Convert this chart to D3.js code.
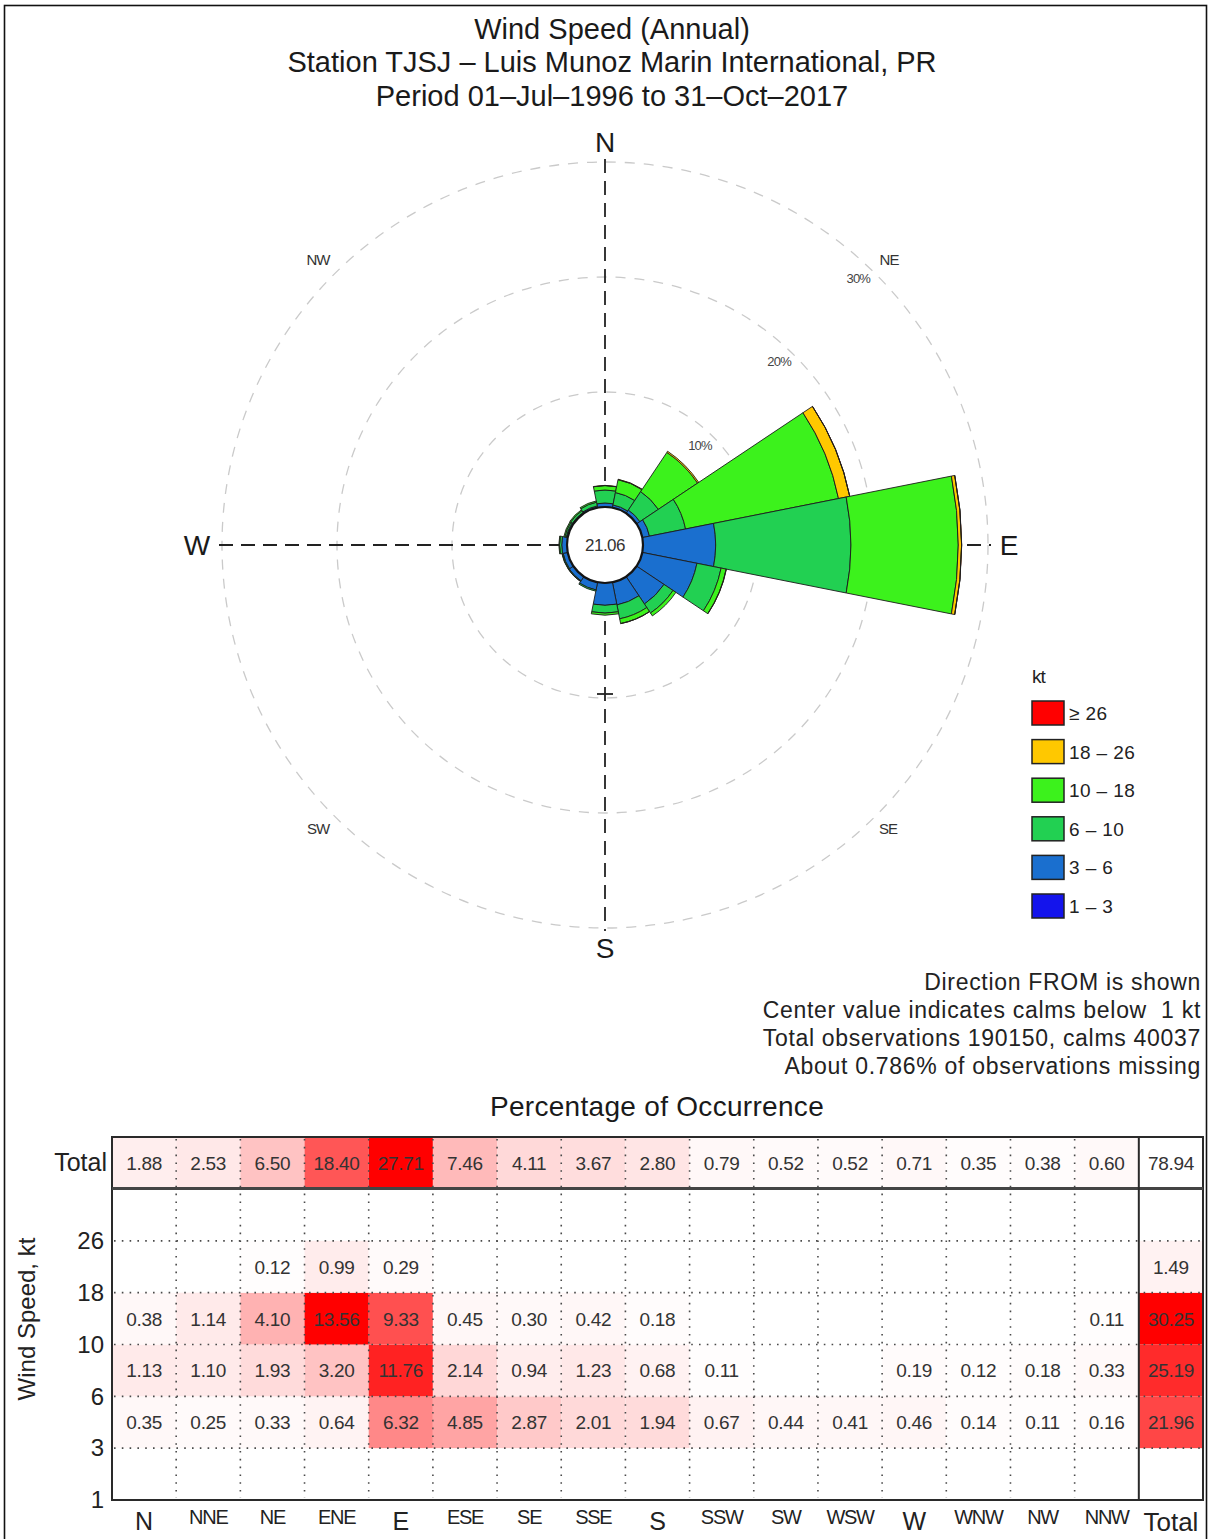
<!DOCTYPE html>
<html>
<head>
<meta charset="utf-8">
<script src="https://cdn.jsdelivr.net/npm/d3@7"></script>
<style>
  html, body { margin: 0; padding: 0; background: #fff; }
  svg { display: block; font-family: "Liberation Sans", Arial, Helvetica, sans-serif; }
</style>
</head>
<body>
<svg id="chart" width="1209" height="1539"></svg>
<script>
// ---- Data: station TJSJ wind speed frequency (%) by direction and speed bin ----
const directions = ["N","NNE","NE","ENE","E","ESE","SE","SSE","S","SSW","SW","WSW","W","WNW","NW","NNW"];
const speedBins = ["1 – 3","3 – 6","6 – 10","10 – 18","18 – 26","≥ 26"];
const speedTicks = [1, 3, 6, 10, 18, 26];
const binColors = ["#1414ec","#1a6fcf","#22d052","#3cf21c","#ffc800","#ff0000"];

// Percent of observations per direction for each speed bin (kt)
const pct1to3   = [0.00,0.00,0.02,0.00,0.00,0.00,0.00,0.00,0.00,0.01,0.00,0.00,0.00,0.00,0.00,0.00];
const pct3to6   = [0.35,0.25,0.33,0.64,6.32,4.85,2.87,2.01,1.94,0.67,0.44,0.41,0.46,0.14,0.11,0.16];
const pct6to10  = [1.13,1.10,1.93,3.20,11.76,2.14,0.94,1.23,0.68,0.11,0.07,0.08,0.19,0.12,0.18,0.33];
const pct10to18 = [0.38,1.14,4.10,13.56,9.33,0.45,0.30,0.42,0.18,0.00,0.01,0.03,0.06,0.09,0.09,0.11];
const pct18to26 = [0.02,0.04,0.12,0.99,0.29,0.02,0.00,0.01,0.00,0.00,0.00,0.00,0.00,0.00,0.00,0.00];
const pct26up   = [0.00,0.00,0.00,0.01,0.01,0.00,0.00,0.00,0.00,0.00,0.00,0.00,0.00,0.00,0.00,0.00];
const binSeries = [pct1to3, pct3to6, pct6to10, pct10to18, pct18to26, pct26up];

const dirTotals = [1.88,2.53,6.50,18.40,27.71,7.46,4.11,3.67,2.80,0.79,0.52,0.52,0.71,0.35,0.38,0.60];
const binTotals = [null, 21.96, 25.19, 30.25, 1.49, null];
const grandTotal = 78.94;
const calmPct = 21.06;
const ringValues = [10, 20, 30];

const titleLines = [
  "Wind Speed (Annual)",
  "Station TJSJ – Luis Munoz Marin International, PR",
  "Period 01–Jul–1996 to 31–Oct–2017"
];
const noteLines = [
  "Direction FROM is shown",
  "Center value indicates calms below  1 kt",
  "Total observations 190150, calms 40037",
  "About 0.786% of observations missing"
];

const svg = d3.select("#chart");
const fmt = d3.format(".2f");

// page frame
svg.append("rect").attr("x", 4.5).attr("y", 5.5).attr("width", 1202).attr("height", 1545)
  .attr("fill", "none").attr("stroke", "#111").attr("stroke-width", 1.6);

// titles
svg.append("g").selectAll("text").data(titleLines).join("text")
  .attr("x", 612).attr("y", (d, i) => 38.5 + i * 33.5)
  .attr("text-anchor", "middle").attr("font-size", 29).attr("fill", "#1a1a1a")
  .style("white-space", "pre")
  .text(d => d);

// ---- Wind rose ----
const cx = 605, cy = 545;
const r = d3.scaleLinear().domain([0, 30]).range([38, 383]);
const rose = svg.append("g").attr("transform", `translate(${cx},${cy})`);

// percentage rings
rose.selectAll("circle.ring").data(ringValues).join("circle")
  .attr("class", "ring").attr("r", d => r(d))
  .attr("fill", "none").attr("stroke", "#cacaca").attr("stroke-width", 1.3)
  .attr("stroke-dasharray", "10,9");

// compass axes
const axR = r(30) + 3;
rose.append("line").attr("x1", 0).attr("x2", 0).attr("y1", -axR).attr("y2", axR)
  .attr("stroke", "#222").attr("stroke-width", 1.8).attr("stroke-dasharray", "14,8");
rose.append("line").attr("y1", 0).attr("y2", 0).attr("x1", -axR).attr("x2", axR)
  .attr("stroke", "#222").attr("stroke-width", 1.8).attr("stroke-dasharray", "14,8");
rose.append("line").attr("x1", -8).attr("x2", 8).attr("y1", r(10) - 4).attr("y2", r(10) - 4)
  .attr("stroke", "#222").attr("stroke-width", 1.8);

// ring labels along the NE diagonal
const labAng = 43.5 * Math.PI / 180;
rose.selectAll("text.ringlab").data(ringValues).join("text")
  .attr("class", "ringlab")
  .attr("x", d => (r(d) - 15) * Math.sin(labAng))
  .attr("y", d => -(r(d) - 15) * Math.cos(labAng) + 5)
  .attr("text-anchor", "middle").attr("font-size", 13).attr("fill", "#444")
  .attr("letter-spacing", -0.8)
  .text(d => d + "%");

// direction labels
const cardinals = [["N", 0, -403], ["S", 0, 403], ["W", -408, 0], ["E", 404, 0]];
rose.selectAll("text.card").data(cardinals).join("text")
  .attr("class", "card").attr("x", d => d[1]).attr("y", d => d[2] + 9.5)
  .attr("text-anchor", "middle").attr("font-size", 28).attr("fill", "#1a1a1a")
  .text(d => d[0]);
const inter = [["NE", 284, -285], ["NW", -287, -285], ["SE", 283, 284], ["SW", -287, 284]];
rose.selectAll("text.inter").data(inter).join("text")
  .attr("class", "inter").attr("x", d => d[1]).attr("y", d => d[2] + 5)
  .attr("text-anchor", "middle").attr("font-size", 15).attr("fill", "#333")
  .attr("letter-spacing", -1)
  .text(d => d[0]);

// stacked wedges
const half = Math.PI / 16;
const wedges = [];
directions.forEach((dir, i) => {
  let cum = 0;
  binSeries.forEach((series, b) => {
    const v = series[i];
    if (v > 0) {
      wedges.push({ dir, bin: b, a: i * Math.PI / 8, c0: cum, c1: cum + v });
      cum += v;
    }
  });
});
const arc = d3.arc()
  .innerRadius(d => r(d.c0)).outerRadius(d => r(d.c1))
  .startAngle(d => d.a - half).endAngle(d => d.a + half);
rose.selectAll("path.wedge").data(wedges).join("path")
  .attr("class", "wedge").attr("d", arc)
  .attr("fill", d => binColors[d.bin])
  .attr("stroke", "#1c1c1c").attr("stroke-width", 0.9).attr("stroke-linejoin", "round");

// calm circle
rose.append("circle").attr("r", r(0)).attr("fill", "#fff")
  .attr("stroke", "#141414").attr("stroke-width", 2.2);
rose.append("text").attr("y", 6).attr("text-anchor", "middle")
  .attr("font-size", 17).attr("fill", "#333").attr("letter-spacing", -0.5)
  .text(fmt(calmPct));

// legend
const legend = svg.append("g").attr("transform", "translate(1032,0)");
legend.append("text").attr("x", 0).attr("y", 683).attr("font-size", 19).attr("fill", "#222")
  .attr("letter-spacing", -1).text("kt");
const legendOrder = d3.range(speedBins.length).reverse();
legend.selectAll("rect").data(legendOrder).join("rect")
  .attr("x", 0).attr("y", (d, i) => 701 + i * 38.6).attr("width", 32).attr("height", 24)
  .attr("fill", d => binColors[d]).attr("stroke", "#222").attr("stroke-width", 1.5);
legend.selectAll("text.lab").data(legendOrder).join("text")
  .attr("class", "lab").attr("x", 37).attr("y", (d, i) => 720 + i * 38.6)
  .attr("font-size", 19).attr("fill", "#222").attr("letter-spacing", 0.4)
  .style("white-space", "pre")
  .text(d => speedBins[d]);

// notes
svg.append("g").selectAll("text").data(noteLines).join("text")
  .attr("x", 1201).attr("y", (d, i) => 990 + i * 28)
  .attr("text-anchor", "end").attr("font-size", 23).attr("fill", "#222")
  .attr("letter-spacing", 0.7)
  .style("white-space", "pre")
  .text(d => d);

// ---- Table: percentage of occurrence ----
svg.append("text").attr("x", 657).attr("y", 1116).attr("text-anchor", "middle")
  .attr("font-size", 28).attr("letter-spacing", 0.3).attr("fill", "#1a1a1a")
  .text("Percentage of Occurrence");

const columns = [...directions, "Total"];
const x = d3.scaleBand().domain(columns).range([112, 1203]);
const yBand = d3.scaleBand().domain(d3.range(speedBins.length)).range([1500, 1189]);
const yEdge = d3.scaleLinear().domain([0, speedBins.length]).range([1500, 1189]);
const totalTop = 1137, totalBot = 1188;
const colW = x.bandwidth();

const tbl = svg.append("g");
const rowColor = d3.scaleLinear().domain([0, d3.max(dirTotals)]).range(["#ffffff", "#ff0000"]);
const bodyMax = d3.max(binSeries.flat());
const bodyColor = d3.scaleLinear().domain([0, bodyMax]).range(["#ffffff", "#ff0000"]);
const colColor = d3.scaleLinear().domain([0, d3.max(binTotals)]).range(["#ffffff", "#ff0000"]);

// total row cells
tbl.selectAll("rect.tot").data(dirTotals).join("rect")
  .attr("class", "tot").attr("x", (d, i) => x(directions[i])).attr("y", totalTop)
  .attr("width", colW).attr("height", totalBot - totalTop)
  .attr("fill", d => rowColor(d));

// body cells
const cells = [];
binSeries.forEach((series, b) => series.forEach((v, i) => cells.push({ b, i, v })));
const shown = cells.filter(c => c.v >= 0.095);
tbl.selectAll("rect.cell").data(shown).join("rect")
  .attr("class", "cell").attr("x", d => x(directions[d.i])).attr("y", d => yBand(d.b))
  .attr("width", colW).attr("height", yBand.bandwidth())
  .attr("fill", d => bodyColor(d.v));

// total column cells
const binTotalCells = binTotals.map((v, b) => ({ b, v })).filter(d => d.v !== null);
tbl.selectAll("rect.bt").data(binTotalCells).join("rect")
  .attr("class", "bt").attr("x", x("Total")).attr("y", d => yBand(d.b))
  .attr("width", colW).attr("height", yBand.bandwidth())
  .attr("fill", d => colColor(d.v));

// dotted grid
const dotted = tbl.append("g").attr("stroke", "#4a4a4a").attr("stroke-width", 1.6)
  .attr("stroke-dasharray", "1.6,6.2");
dotted.selectAll("line.v").data(directions.slice(1)).join("line")
  .attr("class", "v").attr("x1", d => x(d)).attr("x2", d => x(d))
  .attr("y1", totalTop + 2).attr("y2", 1498);
dotted.selectAll("line.h").data(d3.range(1, speedBins.length)).join("line")
  .attr("class", "h").attr("x1", 114).attr("x2", 1202)
  .attr("y1", d => yEdge(d)).attr("y2", d => yEdge(d));

// cell values
const valueText = sel => sel.attr("text-anchor", "middle").attr("font-size", 19)
  .attr("fill", "#333").attr("letter-spacing", -0.3);
tbl.selectAll("text.tot").data(dirTotals).join("text")
  .attr("class", "tot").attr("x", (d, i) => x(directions[i]) + colW / 2)
  .attr("y", (totalTop + totalBot) / 2 + 7)
  .call(valueText).text(d => fmt(d));
tbl.append("text").attr("x", x("Total") + colW / 2).attr("y", (totalTop + totalBot) / 2 + 7)
  .call(valueText).text(fmt(grandTotal));
tbl.selectAll("text.cell").data(shown).join("text")
  .attr("class", "cell").attr("x", d => x(directions[d.i]) + colW / 2)
  .attr("y", d => yBand(d.b) + yBand.bandwidth() / 2 + 7)
  .call(valueText).text(d => fmt(d.v));
tbl.selectAll("text.bt").data(binTotalCells).join("text")
  .attr("class", "bt").attr("x", x("Total") + colW / 2)
  .attr("y", d => yBand(d.b) + yBand.bandwidth() / 2 + 7)
  .call(valueText).text(d => fmt(d.v));

// frames
tbl.append("rect").attr("x", 112).attr("y", totalTop).attr("width", 1203 - 112).attr("height", 1500 - totalTop)
  .attr("fill", "none").attr("stroke", "#2a2a2a").attr("stroke-width", 2);
tbl.append("line").attr("x1", 112).attr("x2", 1203).attr("y1", totalBot + 0.5).attr("y2", totalBot + 0.5)
  .attr("stroke", "#444").attr("stroke-width", 3);
tbl.append("line").attr("x1", x("Total")).attr("x2", x("Total")).attr("y1", totalTop).attr("y2", 1500)
  .attr("stroke", "#2a2a2a").attr("stroke-width", 2);

// "Total" row header
svg.append("text").attr("x", 107).attr("y", (totalTop + totalBot) / 2 + 8.5)
  .attr("text-anchor", "end").attr("font-size", 25).attr("fill", "#222").text("Total");

// speed axis
const yAxis = d3.axisLeft(yEdge).tickValues(d3.range(speedTicks.length))
  .tickFormat(i => speedTicks[i]).tickSize(0).tickPadding(0);
const yg = svg.append("g").attr("transform", "translate(104,0)").call(yAxis);
yg.select(".domain").remove();
yg.selectAll("text").attr("font-size", 24).attr("fill", "#222")
  .attr("font-family", "Liberation Sans, Arial, sans-serif");
svg.append("text").attr("transform", "translate(35,1319) rotate(-90)")
  .attr("text-anchor", "middle").attr("font-size", 24).attr("fill", "#222")
  .text("Wind Speed, kt");

// direction axis
const big = new Set(["N", "E", "S", "W", "Total"]);
const xAxis = d3.axisBottom(x).tickSize(0).tickPadding(0);
const xg = svg.append("g").attr("transform", "translate(0,1505)").call(xAxis);
xg.select(".domain").remove();
xg.selectAll("text")
  .attr("dy", d => big.has(d) ? "1.0em" : "0.95em")
  .attr("font-size", d => d === "Total" ? 26 : big.has(d) ? 25 : 20)
  .attr("fill", "#222")
  .attr("font-family", "Liberation Sans, Arial, sans-serif")
  .attr("letter-spacing", d => big.has(d) ? 0 : -1.3);
</script>
</body>
</html>
